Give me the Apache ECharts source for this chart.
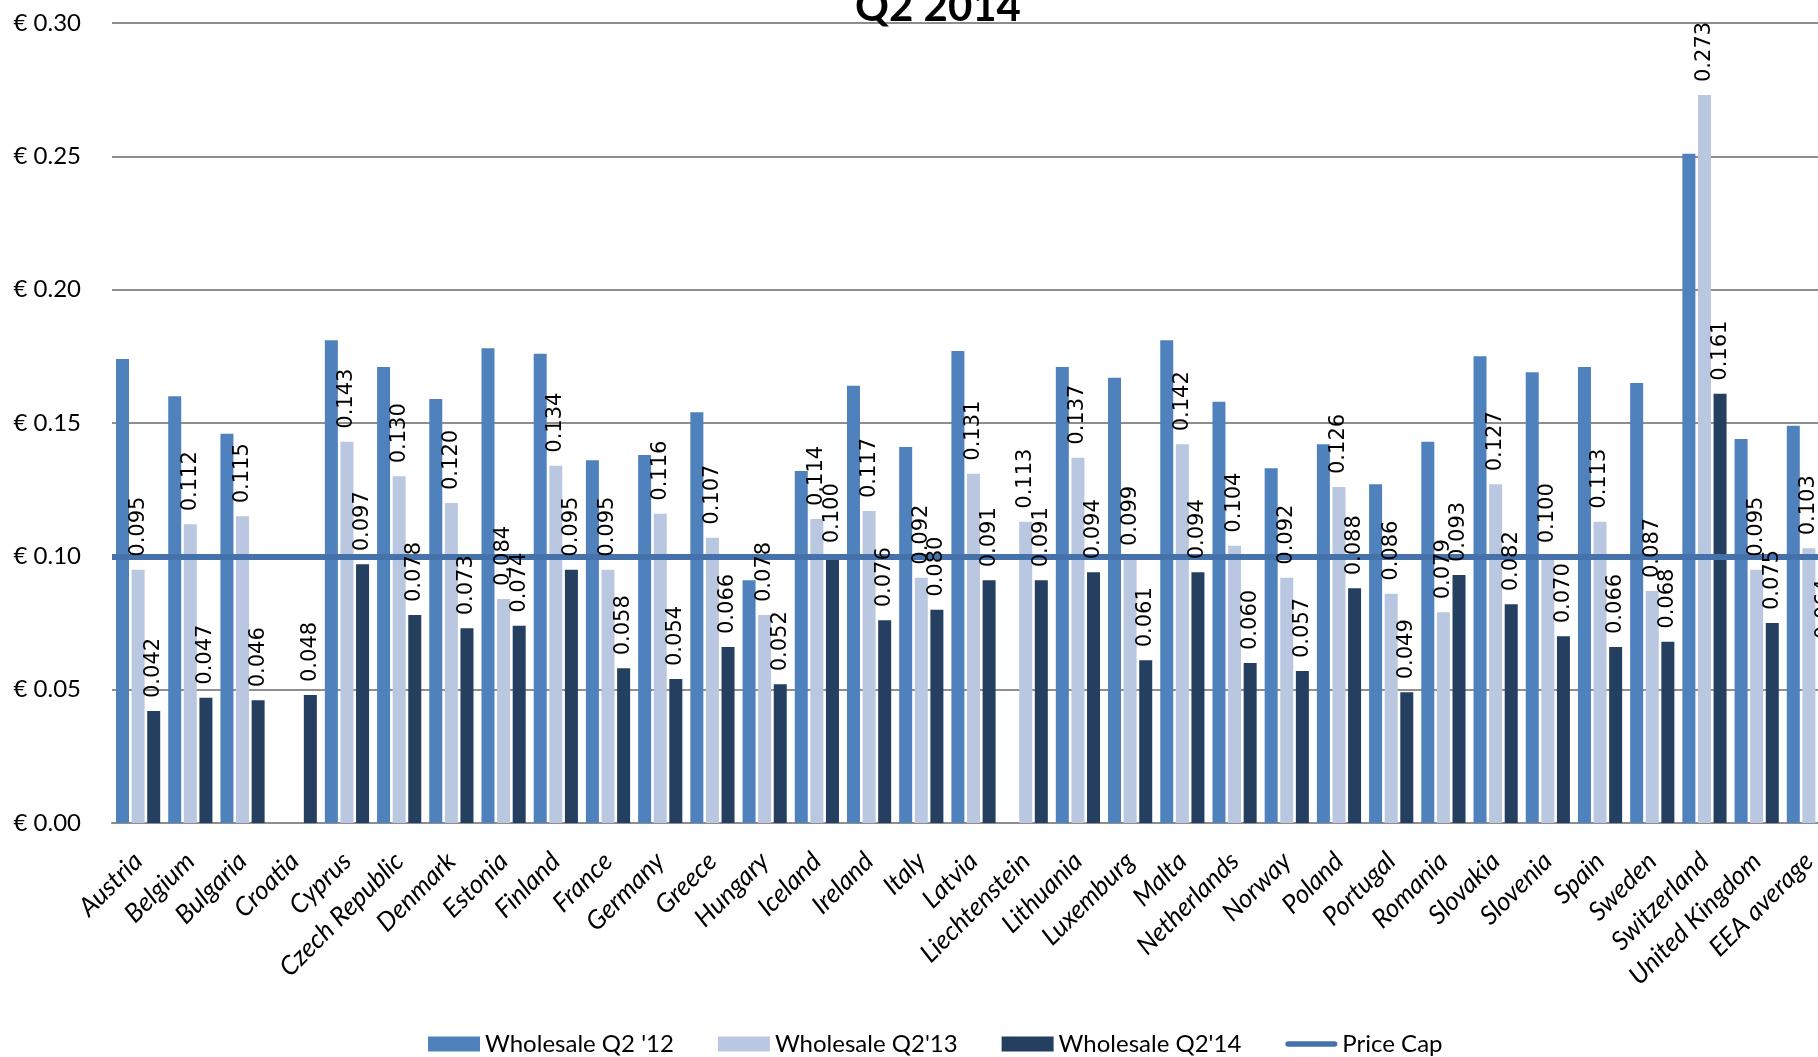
<!DOCTYPE html>
<html>
<head>
<meta charset="utf-8">
<script src="https://cdn.jsdelivr.net/npm/echarts@6/dist/echarts.min.js"></script>
<style>
  html, body { margin: 0; padding: 0; background: #fff; overflow: hidden; width: 1818px; height: 1057px; }
  #myChart { width: 1840px; height: 1057px; }
</style>
</head>
<body>
<div id="myChart"></div>
<script>
// 国家 / x轴文字
const countries = ['Austria', 'Belgium', 'Bulgaria', 'Croatia', 'Cyprus', 'Czech Republic', 'Denmark', 'Estonia',
  'Finland', 'France', 'Germany', 'Greece', 'Hungary', 'Iceland', 'Ireland', 'Italy', 'Latvia', 'Liechtenstein',
  'Lithuania', 'Luxemburg', 'Malta', 'Netherlands', 'Norway', 'Poland', 'Portugal', 'Romania', 'Slovakia',
  'Slovenia', 'Spain', 'Sweden', 'Switzerland', 'United Kingdom', 'EEA average'];

// Wholesale Q2 '12 (no labels in the original)
const wholesale12 = [0.174, 0.160, 0.146, null, 0.181, 0.171, 0.159, 0.178,
  0.176, 0.136, 0.138, 0.154, 0.091, 0.132, 0.164, 0.141, 0.177, null,
  0.171, 0.167, 0.181, 0.158, 0.133, 0.142, 0.127, 0.143, 0.175,
  0.169, 0.171, 0.165, 0.251, 0.144, 0.149];

// Wholesale Q2'13
const wholesale13 = [0.095, 0.112, 0.115, null, 0.143, 0.130, 0.120, 0.084,
  0.134, 0.095, 0.116, 0.107, 0.078, 0.114, 0.117, 0.092, 0.131, 0.113,
  0.137, 0.099, 0.142, 0.104, 0.092, 0.126, 0.086, 0.079, 0.127,
  0.100, 0.113, 0.087, 0.273, 0.095, 0.103];

// Wholesale Q2'14
const wholesale14 = [0.042, 0.047, 0.046, 0.048, 0.097, 0.078, 0.073, 0.074,
  0.095, 0.058, 0.054, 0.066, 0.052, 0.100, 0.076, 0.080, 0.091, 0.091,
  0.094, 0.061, 0.094, 0.060, 0.057, 0.088, 0.049, 0.093, 0.082,
  0.070, 0.066, 0.068, 0.161, 0.075, 0.064];

const priceCap = 0.10;
const yTicks = { min: 0, max: 0.30, step: 0.05 };

const myChart = echarts.init(document.getElementById('myChart'));

const barLabel = {
  show: true,
  position: 'top',
  rotate: 90,
  align: 'left',
  verticalAlign: 'middle',
  distance: 13,
  fontFamily: 'DejaVu Sans',
  fontSize: 21,
  color: '#000',
  formatter: (p) => p.value == null ? '' : Number(p.value).toFixed(3)
};

// 柱子公共样式
function barSeries(name, data, color, axisIndex, z, label) {
  return {
    name: name,
    type: 'bar',
    xAxisIndex: axisIndex,
    barWidth: 13,
    barGap: '20%',
    z: z,
    silent: axisIndex === 1,
    data: data,
    itemStyle: { color: color },
    label: label || { show: false }
  };
}

const option = {
  animation: false,
  backgroundColor: '#fff',
  title: {
    text: 'Q2 2014',
    left: 933,
    textAlign: 'center',
    top: -19,
    textStyle: { fontFamily: 'Lato', fontWeight: 'bold', fontSize: 42, color: '#000' }
  },
  legend: {
    left: 428,
    top: 1032,
    padding: 0,
    itemWidth: 52,
    itemHeight: 15,
    itemGap: 44,
    textStyle: { fontFamily: 'Lato', fontSize: 24, color: '#000' },
    data: [
      { name: "Wholesale Q2 '12", icon: 'rect' },
      { name: "Wholesale Q2'13", icon: 'rect' },
      { name: "Wholesale Q2'14", icon: 'rect' },
      { name: 'Price Cap', icon: 'path://M3,0 L53,0 A3,3 0 0 1 53,6 L3,6 A3,3 0 0 1 3,0 Z' }
    ]
  },
  grid: {
    left: 112,
    top: 23,
    width: 1723,
    height: 800
  },
  xAxis: [{
    type: 'category',
    data: countries,
    axisLine: { lineStyle: { color: '#8e8e8e', width: 2 } },
    axisTick: { show: false },
    axisLabel: {
      interval: 0,
      rotate: 45,
      margin: 34,
      fontFamily: 'Lato',
      fontStyle: 'italic',
      fontSize: 26,
      color: '#000'
    }
  }, {
    // 只用来放数据标签，叠在价格上限线上面
    type: 'category',
    data: countries,
    show: false
  }],
  yAxis: {
    type: 'value',
    min: yTicks.min,
    max: yTicks.max,
    interval: yTicks.step,
    axisLine: { show: false },
    axisTick: { show: false },
    axisLabel: {
      margin: 31,
      fontFamily: 'Lato',
      fontSize: 24,
      color: '#000',
      formatter: (v) => '€ ' + v.toFixed(2)
    },
    splitLine: { lineStyle: { color: '#8e8e8e', width: 2 } }
  },
  series: [
    barSeries("Wholesale Q2 '12", wholesale12, '#4F81BD', 0, 2),
    barSeries("Wholesale Q2'13", wholesale13, '#B9C7E1', 0, 2),
    barSeries("Wholesale Q2'14", wholesale14, '#253F60', 0, 2),
    {
      name: 'Price Cap',
      type: 'line',
      data: [],
      z: 5,
      symbol: 'none',
      itemStyle: { color: '#4672AC' },
      lineStyle: { color: '#4672AC', width: 6 },
      markLine: {
        silent: true,
        symbol: 'none',
        label: { show: false },
        lineStyle: { color: '#4672AC', width: 6, type: 'solid' },
        data: [{ yAxis: priceCap }]
      }
    },
    barSeries('lbl12', wholesale12, 'rgba(0,0,0,0)', 1, 10),
    barSeries('lbl13', wholesale13, 'rgba(0,0,0,0)', 1, 10, barLabel),
    barSeries('lbl14', wholesale14, 'rgba(0,0,0,0)', 1, 10, barLabel)
  ]
};

myChart.setOption(option);
</script>
</body>
</html>
